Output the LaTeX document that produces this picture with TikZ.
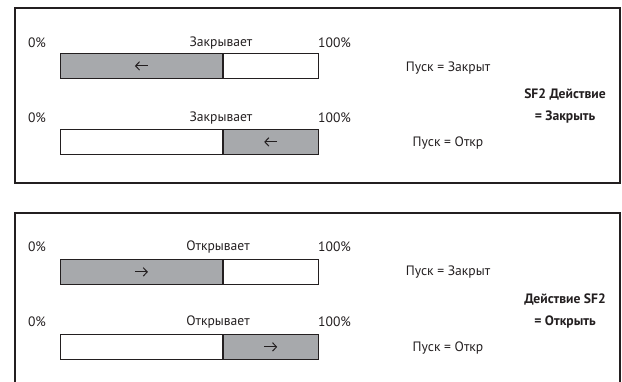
\documentclass[tikz,border=0pt]{standalone}
\usepackage{fontspec}
\setmainfont{PT Sans}
\usetikzlibrary{arrows.meta}
\definecolor{barfill}{HTML}{A7A9AC}
\definecolor{frame}{HTML}{231F20}
\tikzset{
  x=1pt, y=-1pt,
  lbl/.style={font=\fontsize{13.6}{16}\selectfont, inner sep=0pt, text=frame},
  boldlbl/.style={font=\fontsize{13.6}{22}\selectfont\bfseries, inner sep=0pt, align=center, text=frame},
  frm/.style={draw=frame, line width=2.4pt},
  barpart/.style={draw=frame, line width=0.8pt, rectangle, inner sep=0pt, minimum height=25pt},
  full/.style={barpart, fill=barfill},
  empty/.style={barpart, fill=white},
  mv/.style={draw=frame, line width=1pt, -{Straight Barb[length=4pt,width=8.5pt]}}
}
\begin{document}
\begin{tikzpicture}
\useasboundingbox (0,0) rectangle (622,381);
\begin{scope}
\clip (0,0) rectangle (622,381);
% top frame
\draw[frm] (15,8) rectangle (620,183);
% bottom frame (open at bottom)
\draw[frm] (15,395) -- (15,213) -- (620,213) -- (620,395);
\end{scope}

% ===== top panel =====
\node[lbl] (t0a) at (37,43) {0\%};
\node[lbl] (tla) at (221,43) {Закрывает};
\node[lbl, anchor=west] (t1a) at (318,43) {100\%};
\node[full, minimum width=162pt, anchor=north west] (tb1l) at (60,53) {};
\node[empty, minimum width=95pt, anchor=north west] (tb1r) at (tb1l.north east) {};
\coordinate (ta1s) at ([xshift=6.5pt]tb1l.center);
\coordinate (ta1e) at ([xshift=-6.5pt]tb1l.center);
\draw[mv] (ta1s) -- (ta1e);

\node[lbl] (t0b) at (37,118) {0\%};
\node[lbl] (tlb) at (221,118) {Закрывает};
\node[lbl, anchor=west] (t1b) at (318,118) {100\%};
\node[empty, minimum width=162pt, anchor=north west] (tb2l) at (60,129) {};
\node[full, minimum width=95pt, anchor=north west] (tb2r) at (tb2l.north east) {};
\coordinate (ta2s) at ([xshift=6.5pt]tb2r.center);
\coordinate (ta2e) at ([xshift=-6.5pt]tb2r.center);
\draw[mv] (ta2s) -- (ta2e);

\node[lbl] (tp1) at (448,68) {Пуск = Закрыт};
\node[lbl] (tp2) at (448,143) {Пуск = Откр};
\node[boldlbl] (tact) at (565,106) {SF2 Действие\\= Закрыть};

% ===== bottom panel =====
\node[lbl] (b0a) at (37,247) {0\%};
\node[lbl] (bla) at (218,247) {Открывает};
\node[lbl, anchor=west] (b1a) at (318,247) {100\%};
\node[full, minimum width=162pt, anchor=north west] (bb1l) at (60,259) {};
\node[empty, minimum width=95pt, anchor=north west] (bb1r) at (bb1l.north east) {};
\coordinate (ba1s) at ([xshift=-6.5pt]bb1l.center);
\coordinate (ba1e) at ([xshift=6.5pt]bb1l.center);
\draw[mv] (ba1s) -- (ba1e);

\node[lbl] (b0b) at (37,322) {0\%};
\node[lbl] (blb) at (218,322) {Открывает};
\node[lbl, anchor=west] (b1b) at (318,322) {100\%};
\node[empty, minimum width=162pt, anchor=north west] (bb2l) at (60,334) {};
\node[full, minimum width=95pt, anchor=north west] (bb2r) at (bb2l.north east) {};
\coordinate (ba2s) at ([xshift=-6.5pt]bb2r.center);
\coordinate (ba2e) at ([xshift=6.5pt]bb2r.center);
\draw[mv] (ba2s) -- (ba2e);

\node[lbl] (bp1) at (448,272) {Пуск = Закрыт};
\node[lbl] (bp2) at (448,348) {Пуск = Откр};
\node[boldlbl] (bact) at (565,311) {Действие SF2\\= Открыть};
\end{tikzpicture}
\end{document}
